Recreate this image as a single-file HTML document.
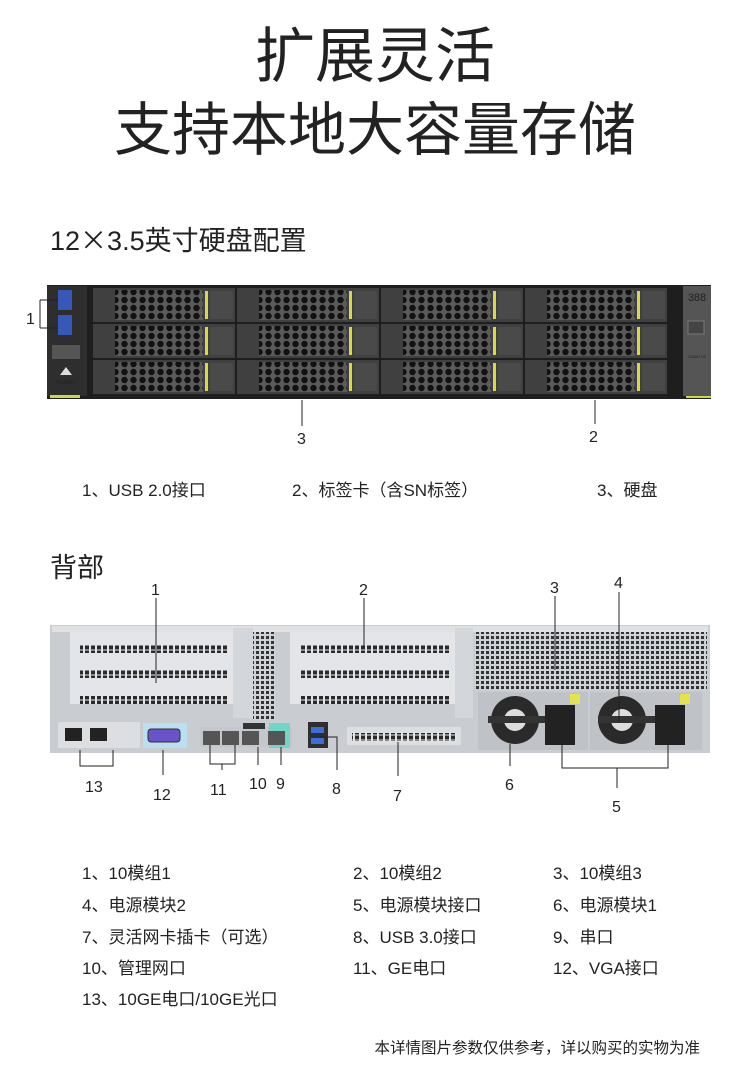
<!DOCTYPE html>
<html><head><meta charset="utf-8"><style>
html,body{margin:0;padding:0;background:#fff;}
svg{display:block;}
text{font-family:"Liberation Sans","Noto Sans CJK SC",sans-serif;fill:#222;}
</style></head><body>
<svg width="750" height="1073" viewBox="0 0 750 1073" xmlns="http://www.w3.org/2000/svg">
<defs>
<pattern id="hex" width="9" height="8" patternUnits="userSpaceOnUse">
<rect width="9" height="8" fill="#5a5a5a"/>
<circle cx="4.5" cy="4" r="3.2" fill="#111"/>
</pattern>
<pattern id="slots" width="6" height="5" patternUnits="userSpaceOnUse">
<rect width="6" height="5" fill="#e3e5e8"/>
<rect x="1" y="0.5" width="4" height="4" fill="#2a2a2a"/>
</pattern>
<pattern id="grid" width="5" height="5" patternUnits="userSpaceOnUse">
<rect width="5" height="5" fill="#cfd2d6"/>
<rect x="1" y="1" width="3" height="3" fill="#333"/>
</pattern>
<g id="bay">
 <rect width="142" height="34" fill="#404040"/><rect x="22" y="2" width="88" height="30" fill="url(#hex)"/><rect x="112" y="3" width="3" height="28" fill="#d8d84a"/><rect x="117" y="3" width="23" height="28" fill="#4a4a4a"/>
</g>
</defs>

<text x="375" y="77" font-size="60" text-anchor="middle" fill="#3a3a3a">扩展灵活</text>
<text x="375" y="150" font-size="58" text-anchor="middle" fill="#3a3a3a">支持本地大容量存储</text>
<text x="50" y="250" font-size="27" fill="#333">12<tspan font-family="Noto Sans CJK SC">×</tspan>3.5英寸硬盘配置</text>

<rect x="47" y="285" width="664" height="114" fill="#1e1e1e"/>
<rect x="47" y="286" width="40" height="110" fill="#2e2e2e"/>
<rect x="58" y="290" width="14" height="20" fill="#3658b8"/>
<rect x="58" y="315" width="14" height="20" fill="#3658b8"/>
<rect x="52" y="345" width="28" height="14" fill="#555"/>
<text x="66" y="384" font-size="5" text-anchor="middle" fill="#ccc">HUAWEI</text>
<path d="M60 375 l6 -8 l6 8z" fill="#ddd"/>
<rect x="50" y="395" width="30" height="3" fill="#c8d84a"/>
<use href="#bay" x="93" y="288"/><use href="#bay" x="93" y="324"/><use href="#bay" x="93" y="360"/>
<use href="#bay" x="237" y="288"/><use href="#bay" x="237" y="324"/><use href="#bay" x="237" y="360"/>
<use href="#bay" x="381" y="288"/><use href="#bay" x="381" y="324"/><use href="#bay" x="381" y="360"/>
<use href="#bay" x="525" y="288"/><use href="#bay" x="525" y="324"/><use href="#bay" x="525" y="360"/>
<rect x="683" y="286" width="28" height="110" fill="#555"/>
<text x="697" y="301" font-size="11" text-anchor="middle" fill="#ddd">388</text>
<rect x="688" y="321" width="16" height="13" fill="#444" stroke="#777"/>
<text x="697" y="358" font-size="4" text-anchor="middle" fill="#ddd">2288H V5</text>
<rect x="686" y="396" width="25" height="2" fill="#c8d84a"/>

<path d="M40 300 H58 M40 328 H58 M40 300 V328" stroke="#222" fill="none"/>
<text x="26" y="324" font-size="16">1</text>
<line x1="302" y1="400" x2="302" y2="426" stroke="#222"/>
<text x="297" y="444" font-size="16">3</text>
<line x1="595" y1="400" x2="595" y2="424" stroke="#222"/>
<text x="589" y="442" font-size="16">2</text>

<text x="82" y="496" font-size="17">1、USB 2.0接口</text>
<text x="292" y="496" font-size="17">2、标签卡（含SN标签）</text>
<text x="597" y="496" font-size="17">3、硬盘</text>

<text x="50" y="577" font-size="27" fill="#333">背部</text>

<rect x="50" y="625" width="660" height="128" fill="#c9ccd0"/>
<rect x="52" y="626" width="656" height="6" fill="#dfe1e4"/>
<rect x="70" y="632" width="163" height="72" fill="#e3e5e8"/>
<rect x="80" y="645" width="148" height="8" fill="url(#slots)"/>
<rect x="80" y="670" width="148" height="8" fill="url(#slots)"/>
<rect x="80" y="696" width="148" height="8" fill="url(#slots)"/>
<rect x="233" y="628" width="20" height="90" fill="#d3d6da"/>
<rect x="253" y="632" width="22" height="88" fill="url(#grid)"/>
<rect x="290" y="632" width="165" height="72" fill="#e3e5e8"/>
<rect x="300" y="645" width="150" height="8" fill="url(#slots)"/>
<rect x="300" y="670" width="150" height="8" fill="url(#slots)"/>
<rect x="300" y="696" width="150" height="8" fill="url(#slots)"/>
<rect x="455" y="628" width="18" height="90" fill="#d3d6da"/>
<rect x="475" y="632" width="232" height="58" fill="url(#grid)"/>
<rect x="478" y="692" width="110" height="58" fill="#bfc2c6"/>
<rect x="590" y="692" width="112" height="58" fill="#bfc2c6"/>
<circle cx="515" cy="720" r="24" fill="#2a2a2a"/><circle cx="515" cy="720" r="11" fill="#ddd"/>
<circle cx="622" cy="720" r="24" fill="#2a2a2a"/><circle cx="622" cy="720" r="11" fill="#ddd"/>
<rect x="488" y="716" width="62" height="7" fill="#333"/>
<rect x="598" y="716" width="62" height="7" fill="#333"/>
<rect x="545" y="705" width="30" height="40" fill="#222"/>
<rect x="655" y="705" width="30" height="40" fill="#222"/>
<rect x="570" y="694" width="10" height="10" fill="#e3e34a"/>
<rect x="680" y="694" width="10" height="10" fill="#e3e34a"/>
<rect x="58" y="722" width="82" height="26" fill="#dcdee1"/>
<rect x="65" y="728" width="17" height="13" fill="#222"/>
<rect x="90" y="728" width="17" height="13" fill="#222"/>
<rect x="143" y="723" width="44" height="25" fill="#b9e0ee"/>
<rect x="148" y="729" width="32" height="13" rx="3" fill="#6a52c8" stroke="#333"/>
<rect x="200" y="727" width="92" height="20" fill="#c4c7cb"/>
<rect x="269" y="723" width="21" height="25" fill="#6fd6c8"/>
<rect x="203" y="731" width="17" height="14" fill="#555"/>
<rect x="222" y="731" width="17" height="14" fill="#555"/>
<rect x="242" y="731" width="17" height="14" fill="#555"/>
<rect x="268" y="731" width="17" height="14" fill="#555"/>
<rect x="243" y="723" width="22" height="6" fill="#333"/>
<rect x="308" y="722" width="20" height="26" fill="#2e2e2e"/>
<rect x="311" y="727" width="13" height="6" fill="#3a6fd8"/>
<rect x="311" y="738" width="13" height="6" fill="#3a6fd8"/>
<rect x="347" y="727" width="114" height="18" fill="#dcdee1"/>
<rect x="352" y="733" width="105" height="8" fill="url(#slots)"/>

<g stroke="#222" fill="none">
<line x1="156" y1="598" x2="156" y2="683"/>
<line x1="364" y1="598" x2="364" y2="647"/>
<line x1="555" y1="596" x2="555" y2="670"/>
<line x1="619" y1="592" x2="619" y2="722"/>
<path d="M80 750 V766 H113 V750"/>
<line x1="163" y1="750" x2="163" y2="775"/>
<path d="M210 745 V764 H235 V745 M222 764 V770"/>
<line x1="258" y1="747" x2="258" y2="765"/>
<line x1="281" y1="747" x2="281" y2="765"/>
<path d="M320 737 H337 V770"/>
<line x1="398" y1="742" x2="398" y2="776"/>
<line x1="510" y1="744" x2="510" y2="766"/>
<path d="M562 744 V768 H668 V744 M617 768 V788"/>
</g>
<text x="151" y="595" font-size="16">1</text>
<text x="359" y="595" font-size="16">2</text>
<text x="550" y="593" font-size="16">3</text>
<text x="614" y="588" font-size="16">4</text>
<text x="85" y="792" font-size="16">13</text>
<text x="153" y="800" font-size="16">12</text>
<text x="210" y="795" font-size="16">11</text>
<text x="249" y="789" font-size="16">10</text>
<text x="276" y="789" font-size="16">9</text>
<text x="332" y="794" font-size="16">8</text>
<text x="393" y="801" font-size="16">7</text>
<text x="505" y="790" font-size="16">6</text>
<text x="612" y="812" font-size="16">5</text>

<g font-size="17">
<text x="82" y="879">1、10模组1</text>
<text x="353" y="879">2、10模组2</text>
<text x="553" y="879">3、10模组3</text>
<text x="82" y="911">4、电源模块2</text>
<text x="353" y="911">5、电源模块接口</text>
<text x="553" y="911">6、电源模块1</text>
<text x="82" y="943">7、灵活网卡插卡（可选）</text>
<text x="353" y="943">8、USB 3.0接口</text>
<text x="553" y="943">9、串口</text>
<text x="82" y="974">10、管理网口</text>
<text x="353" y="974">11、GE电口</text>
<text x="553" y="974">12、VGA接口</text>
<text x="82" y="1005">13、10GE电口/10GE光口</text>
</g>
<text x="700" y="1053" font-size="15.5" text-anchor="end">本详情图片参数仅供参考，详以购买的实物为准</text>
</svg>
</body></html>
